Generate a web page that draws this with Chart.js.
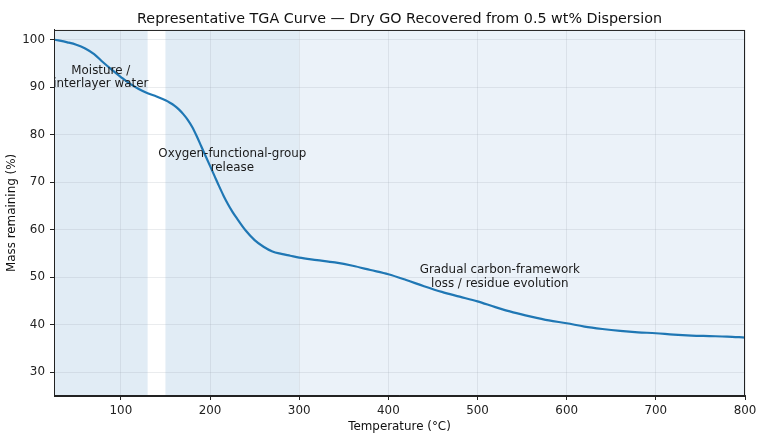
<!DOCTYPE html>
<html>
<head>
<meta charset="utf-8">
<script src="https://cdn.jsdelivr.net/npm/chart.js@4.4.1/dist/chart.umd.min.js"></script>
<style>
  html, body { margin: 0; padding: 0; background: #fff; }
  #wrap { width: 760px; height: 436px; }
</style>
</head>
<body>
<div id="wrap"><canvas id="tgaChart" width="760" height="436"></canvas></div>
<script>
// readings (temperature in °C, mass in %)
const temps = [25, 40, 50, 60, 70, 80, 90, 100, 110, 120, 130, 140, 150, 155, 160, 165, 170, 175,
  180, 185, 190, 195, 200, 205, 210, 215, 220, 225, 230, 240, 250, 260, 270, 280, 290, 300, 320,
  340, 360, 380, 400, 420, 440, 460, 480, 500, 520, 540, 560, 580, 600, 620, 640, 660, 680, 700,
  720, 740, 760, 780, 800]
const mass = [100.0, 99.4, 98.9, 98.1, 96.9, 95.2, 93.6, 92.1, 90.7, 89.6, 88.7, 88.0, 87.2, 86.7,
  86.1, 85.3, 84.3, 83.1, 81.6, 79.7, 77.6, 75.5, 73.4, 71.3, 69.2, 67.2, 65.4, 63.8, 62.4, 59.8,
  57.8, 56.4, 55.4, 54.9, 54.5, 54.1, 53.6, 53.1, 52.4, 51.5, 50.6, 49.4, 48.1, 46.9, 45.9, 44.9,
  43.7, 42.6, 41.7, 40.9, 40.3, 39.6, 39.1, 38.7, 38.4, 38.2, 37.9, 37.7, 37.6, 37.5, 37.3]

const xTicks = [100, 200, 300, 400, 500, 600, 700, 800]
const yTicks = [30, 40, 50, 60, 70, 80, 90, 100]

// decomposition stages
const regionStarts = [25, 150, 300]
const regionEnds = [130, 300, 800]
const regionLabels = [
  ["Moisture /", "interlayer water"],
  ["Oxygen-functional-group", "release"],
  ["Gradual carbon-framework", "loss / residue evolution"],
]
const labelTemps = [77.5, 225, 525]
const labelMass = [92, 74.5, 50]

const regionFills = ["#e1ecf5", "#e1ecf5", "#ebf2f9"]

const points = temps.map((t, i) => ({ x: t, y: mass[i] }))

const FONT = "'DejaVu Sans'"

// shaded stages behind the grid + their labels
const stagePlugin = {
  id: "stages",
  beforeDraw(chart) {
    const { ctx, chartArea, scales } = chart
    ctx.save()
    ctx.beginPath()
    ctx.rect(chartArea.left, chartArea.top, chartArea.right - chartArea.left, chartArea.bottom - chartArea.top)
    ctx.clip()
    regionStarts.forEach((s, i) => {
      const x0 = scales.x.getPixelForValue(s)
      const x1 = scales.x.getPixelForValue(regionEnds[i])
      ctx.fillStyle = regionFills[i]
      ctx.fillRect(x0, chartArea.top, x1 - x0, chartArea.bottom - chartArea.top)
    })
    ctx.restore()
  },
  afterDatasetsDraw(chart) {
    const { ctx, chartArea, scales } = chart
    ctx.save()
    ctx.font = "11.9px " + FONT
    ctx.fillStyle = "#1a1a1a"
    ctx.textAlign = "center"
    ctx.textBaseline = "middle"
    regionLabels.forEach((lines, i) => {
      const cx = scales.x.getPixelForValue(labelTemps[i])
      const cy = scales.y.getPixelForValue(labelMass[i])
      const lh = 13.6
      lines.forEach((txt, j) => {
        ctx.fillText(txt, cx, cy + (j - (lines.length - 1) / 2) * lh)
      })
    })
    // box round the axes
    ctx.strokeStyle = "#222"
    ctx.lineWidth = 1
    ctx.strokeRect(chartArea.left + 0.5, chartArea.top + 0.5,
      chartArea.right - chartArea.left - 1, chartArea.bottom - chartArea.top)
    ctx.restore()
  },
}

const ctx = document.getElementById("tgaChart").getContext("2d")
new Chart(ctx, {
  type: "line",
  data: {
    datasets: [{
      label: "Mass remaining",
      data: points,
      borderColor: "#1f77b4",
      borderWidth: 2.2,
      pointRadius: 0,
      fill: false,
      cubicInterpolationMode: "monotone",
    }],
  },
  options: {
    responsive: false,
    animation: false,
    devicePixelRatio: 1,
    layout: { padding: { left: 0, right: 15, top: 0, bottom: 0 } },
    plugins: {
      legend: { display: false },
      tooltip: { enabled: false },
      title: {
        display: true,
        fullSize: false,
        text: "Representative TGA Curve — Dry GO Recovered from 0.5 wt% Dispersion",
        color: "#111",
        font: { family: FONT, size: 14.3, weight: "normal" },
        padding: { top: 11, bottom: 1.8 },
      },
    },
    scales: {
      x: {
        type: "linear",
        min: 25,
        max: 800,
        afterFit: (scale) => { scale.height = 40 },
        afterBuildTicks: (scale) => { scale.ticks = xTicks.map((v) => ({ value: v })) },
        ticks: { color: "#222", font: { family: FONT, size: 11.9 }, padding: 3.4, maxRotation: 0 },
        grid: { color: "rgba(150,160,170,0.25)", lineWidth: 0.8, tickColor: "#222", tickLength: 4, tickWidth: 1 },
        border: { color: "#222", width: 1 },
        title: { display: true, text: "Temperature (°C)", color: "#111",
          font: { family: FONT, size: 11.9 }, padding: { top: 0, bottom: 1.9 } },
      },
      y: {
        min: 25,
        max: 102,
        afterFit: (scale) => { scale.width = 54 },
        afterBuildTicks: (scale) => { scale.ticks = yTicks.map((v) => ({ value: v })) },
        ticks: { color: "#222", font: { family: FONT, size: 11.9 }, padding: 5 },
        grid: { color: "rgba(150,160,170,0.25)", lineWidth: 0.8, tickColor: "#222", tickLength: 4, tickWidth: 1 },
        border: { color: "#222", width: 1 },
        title: { display: true, text: "Mass remaining (%)", color: "#111",
          font: { family: FONT, size: 11.9 }, padding: { top: 4.4, bottom: 0 } },
      },
    },
  },
  plugins: [stagePlugin],
})
</script>
</body>
</html>
